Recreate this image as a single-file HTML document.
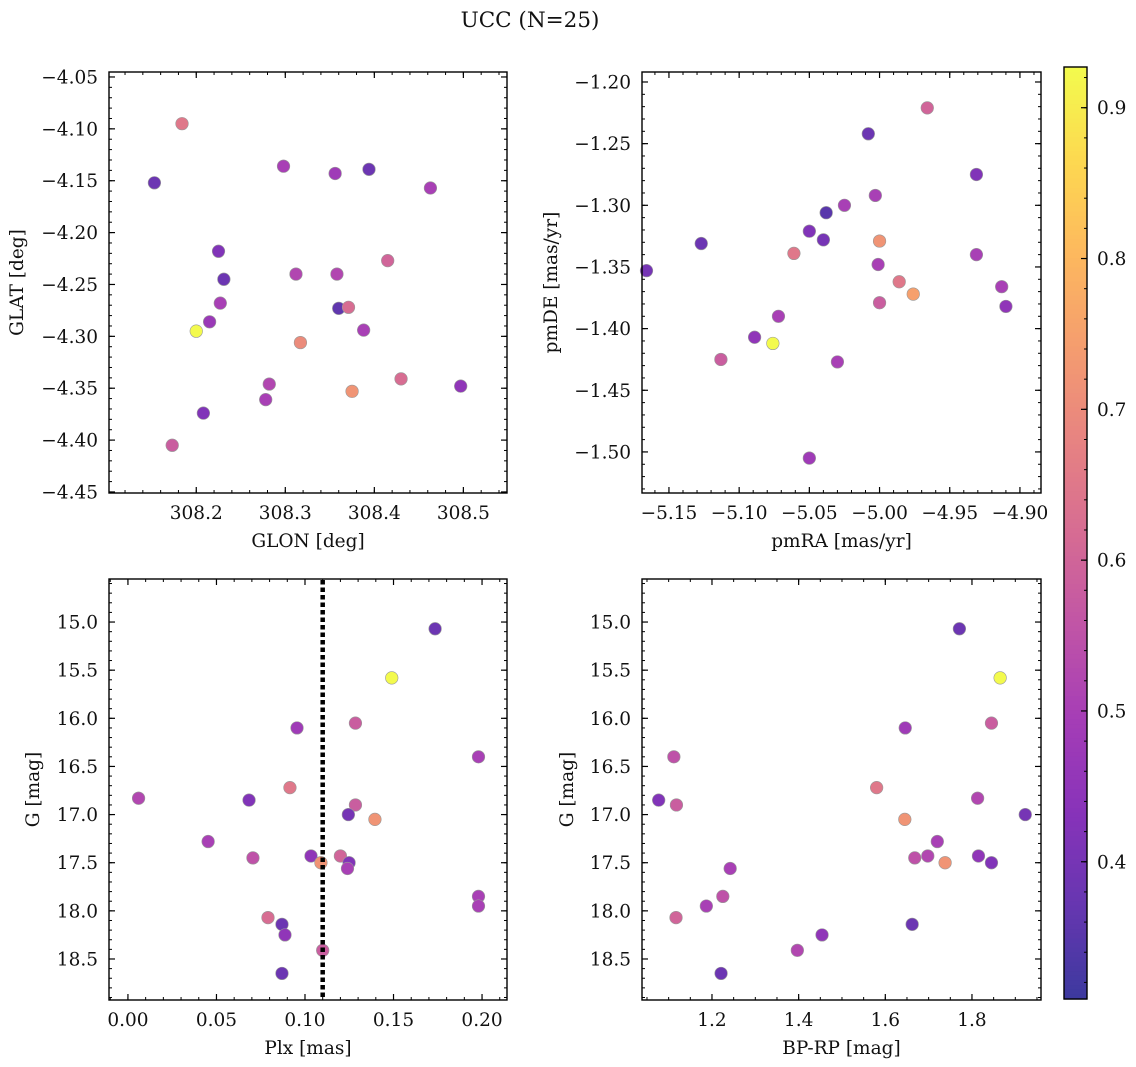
<!DOCTYPE html>
<html><head><meta charset="utf-8"><style>
body{margin:0;background:#fff}
svg{display:block}
text{font-family:"DejaVu Serif","Liberation Serif",serif;fill:#111}
</style></head><body>
<svg id="fig" width="1136" height="1067" xmlns="http://www.w3.org/2000/svg">
<text x="530" y="27" font-size="21.5" text-anchor="middle">UCC (N=25)</text>
</svg>
<script>
// Panel 1: GLON vs GLAT
const p1x=[308.184,308.153,308.298,308.356,308.394,308.463,308.225,308.231,308.312,308.358,308.415,308.227,308.215,308.200,308.317,308.360,308.371,308.388,308.282,308.278,308.375,308.430,308.497,308.208,308.173];
const p1y=[-4.095,-4.152,-4.136,-4.143,-4.139,-4.157,-4.218,-4.245,-4.240,-4.240,-4.227,-4.268,-4.286,-4.295,-4.306,-4.273,-4.272,-4.294,-4.346,-4.361,-4.353,-4.341,-4.348,-4.374,-4.405];
const p1c=[0.65,0.38,0.50,0.48,0.38,0.50,0.42,0.38,0.52,0.52,0.60,0.50,0.47,0.93,0.70,0.36,0.62,0.50,0.52,0.50,0.72,0.62,0.45,0.42,0.58];
// Panel 2: pmRA vs pmDE
const p2x=[-4.966,-5.008,-4.931,-5.003,-5.025,-5.038,-5.050,-5.040,-5.127,-5.000,-5.061,-5.001,-4.931,-5.166,-4.986,-4.976,-4.913,-4.910,-5.000,-5.072,-5.089,-5.076,-5.113,-5.030,-5.050];
const p2y=[-1.221,-1.242,-1.275,-1.292,-1.300,-1.306,-1.321,-1.328,-1.331,-1.329,-1.339,-1.348,-1.340,-1.353,-1.362,-1.372,-1.366,-1.382,-1.379,-1.390,-1.407,-1.412,-1.425,-1.427,-1.505];
const p2c=[0.60,0.38,0.42,0.50,0.50,0.35,0.42,0.40,0.38,0.72,0.65,0.50,0.50,0.40,0.65,0.75,0.50,0.45,0.58,0.50,0.45,0.93,0.58,0.50,0.48];
// Panel 3: Plx vs G
const p3x=[0.1735,0.1490,0.0955,0.1285,0.1980,0.0915,0.0060,0.0684,0.1285,0.1395,0.1245,0.0453,0.0706,0.1034,0.1200,0.1090,0.1249,0.1240,0.1980,0.1980,0.0791,0.0870,0.0887,0.1100,0.0870];
const p3y=[15.07,15.58,16.10,16.05,16.40,16.72,16.83,16.85,16.90,17.05,17.00,17.28,17.45,17.43,17.43,17.50,17.50,17.56,17.85,17.95,18.07,18.14,18.25,18.41,18.65];
const p3c=[0.38,0.93,0.48,0.58,0.50,0.65,0.52,0.42,0.58,0.72,0.40,0.50,0.55,0.45,0.60,0.72,0.42,0.50,0.50,0.50,0.62,0.38,0.45,0.58,0.38];
const plxLine=[0.110];
// Panel 4: BP-RP vs G
const p4x=[1.771,1.865,1.646,1.845,1.112,1.580,1.813,1.077,1.118,1.645,1.923,1.720,1.668,1.698,1.815,1.738,1.845,1.242,1.225,1.187,1.117,1.662,1.454,1.397,1.221];
const p4y=[15.07,15.58,16.10,16.05,16.40,16.72,16.83,16.85,16.90,17.05,17.00,17.28,17.45,17.43,17.43,17.50,17.50,17.56,17.85,17.95,18.07,18.14,18.25,18.41,18.65];
const p4c=[0.38,0.93,0.48,0.58,0.55,0.65,0.52,0.42,0.58,0.72,0.40,0.50,0.55,0.52,0.45,0.72,0.42,0.50,0.55,0.50,0.60,0.38,0.45,0.52,0.38];
const cbMin=0.309, cbMax=0.927;
const cbTicks=[0.4,0.5,0.6,0.7,0.8,0.9];

const FS=18.5;
const NS="http://www.w3.org/2000/svg";
const svg=document.getElementById('fig');
function el(t,a,p){const e=document.createElementNS(NS,t);for(const k in a)e.setAttribute(k,a[k]);(p||svg).appendChild(e);return e;}
const stops=[[13,8,135],[65,4,157],[106,0,168],[143,13,164],[177,42,144],[204,71,120],[225,100,98],[242,132,75],[252,166,54],[252,206,37],[240,249,33]];
function plasma(t){t=Math.max(0,Math.min(1,t))*10;const i=Math.min(9,Math.floor(t)),f=t-i;const a=stops[i],b=stops[i+1];
 const c=[0,1,2].map(k=>Math.round((a[k]+(b[k]-a[k])*f)*0.8+255*0.2));return `rgb(${c[0]},${c[1]},${c[2]})`;}
function cnorm(v){return (v-cbMin)/(cbMax-cbMin);}
function fmt(v,d){const s=Math.abs(v).toFixed(d);return (v<-1e-9?'\u2212':'')+s;}

function panel(name,L,T,R,B,xr,yr,xmaj,xmin,ymaj,ymin,xd,yd,xlab,ylab,ylx,invert,xs,ys,cs){
 const g=el('g',{});
 const X=v=>L+(v-xr[0])/(xr[1]-xr[0])*(R-L);
 const Y=invert?(v=>T+(v-yr[0])/(yr[1]-yr[0])*(B-T)):(v=>B-(v-yr[0])/(yr[1]-yr[0])*(B-T));
 const ticks=(r,s)=>{const o=[];for(let v=Math.ceil(r[0]/s-1e-6)*s;v<=r[1]+1e-9;v+=s)o.push(v);return o;};
 ticks(xr,xmin).forEach(v=>{const x=X(v);el('line',{x1:x,x2:x,y1:B,y2:B-3,stroke:'#000','stroke-width':1},g);el('line',{x1:x,x2:x,y1:T,y2:T+3,stroke:'#000','stroke-width':1},g);});
 ticks(yr,ymin).forEach(v=>{const y=Y(v);el('line',{x1:L,x2:L+3,y1:y,y2:y,stroke:'#000','stroke-width':1},g);el('line',{x1:R,x2:R-3,y1:y,y2:y,stroke:'#000','stroke-width':1},g);});
 ticks(xr,xmaj).forEach(v=>{const x=X(v);el('line',{x1:x,x2:x,y1:B,y2:B-6,stroke:'#000','stroke-width':1.2},g);el('line',{x1:x,x2:x,y1:T,y2:T+6,stroke:'#000','stroke-width':1.2},g);
  const t=el('text',{x:x,y:B+26,'font-size':FS,'text-anchor':'middle'},g);t.textContent=fmt(v,xd);
  
  });
 ticks(yr,ymaj).forEach(v=>{const y=Y(v);el('line',{x1:L,x2:L+6,y1:y,y2:y,stroke:'#000','stroke-width':1.2},g);el('line',{x1:R,x2:R-6,y1:y,y2:y,stroke:'#000','stroke-width':1.2},g);
  const t=el('text',{x:L-11,y:y+6.5,'font-size':FS,'text-anchor':'end'},g);t.textContent=fmt(v,yd);
  
  });
 const xl=el('text',{x:(L+R)/2,y:B+54,'font-size':FS,'text-anchor':'middle',},g);xl.textContent=xlab;
 const yl=el('text',{x:ylx,y:(T+B)/2,'font-size':FS,'text-anchor':'middle',transform:`rotate(-90 ${ylx} ${(T+B)/2})`,},g);yl.textContent=ylab;
 xs.forEach((v,i)=>{const c=el('circle',{cx:X(v),cy:Y(ys[i]),r:6.3,fill:plasma(cnorm(cs[i])),stroke:'#999','stroke-width':0.6},g);
  
  });
 el('rect',{x:L,y:T,width:R-L,height:B-T,fill:'none',stroke:'#000','stroke-width':1.4},g);
 return {X,Y,g};
}
panel('panel-glon-glat',109,72,507,493,[308.102,308.549],[-4.451,-4.0452],0.1,0.02,0.05,0.01,1,2,'GLON [deg]','GLAT [deg]',23,false,p1x,p1y,p1c);
panel('panel-pm',642,72,1041,493,[-5.1692,-4.885],[-1.5333,-1.1919],0.05,0.01,0.05,0.01,2,2,'pmRA [mas/yr]','pmDE [mas/yr]',557,false,p2x,p2y,p2c);
const P3=panel('panel-plx-g',109,579,507,1000,[-0.0107,0.2141],[14.553,18.926],0.05,0.01,0.5,0.1,2,1,'Plx [mas]','G [mag]',39,true,p3x,p3y,p3c);
const vl=el('line',{x1:P3.X(plxLine[0]),x2:P3.X(plxLine[0]),y1:580,y2:999,stroke:'#000','stroke-width':4.5,'stroke-dasharray':'4.5,3'},P3.g);


panel('panel-bprp-g',642,579,1041,1000,[1.0385,1.9593],[14.553,18.926],0.2,0.05,0.5,0.1,1,1,'BP-RP [mag]','G [mag]',573,true,p4x,p4y,p4c);

// colorbar
const cb=el('g',{});
const cL=1064,cR=1087,cT=67,cB=999;
const CY=v=>cB-(v-cbMin)/(cbMax-cbMin)*(cB-cT);
for(let i=0;i<200;i++){const y0=cT+(cB-cT)*i/200;el('rect',{x:cL,y:y0,width:cR-cL,height:(cB-cT)/200+0.6,fill:plasma(1-i/199)},cb);}
for(let v=0.32;v<=cbMax+1e-9;v+=0.02){const y=CY(v);el('line',{x1:cR,x2:cR-3,y1:y,y2:y,stroke:'#000','stroke-width':1},cb);}
cbTicks.forEach(v=>{const y=CY(v);el('line',{x1:cR,x2:cR-6,y1:y,y2:y,stroke:'#000','stroke-width':1.2},cb);
 const t=el('text',{x:cR+10,y:y+6.5,'font-size':FS},cb);t.textContent=v.toFixed(1);
 
 });
el('rect',{x:cL,y:cT,width:cR-cL,height:cB-cT,fill:'none',stroke:'#000','stroke-width':1.4},cb);
</script>
</body></html>
